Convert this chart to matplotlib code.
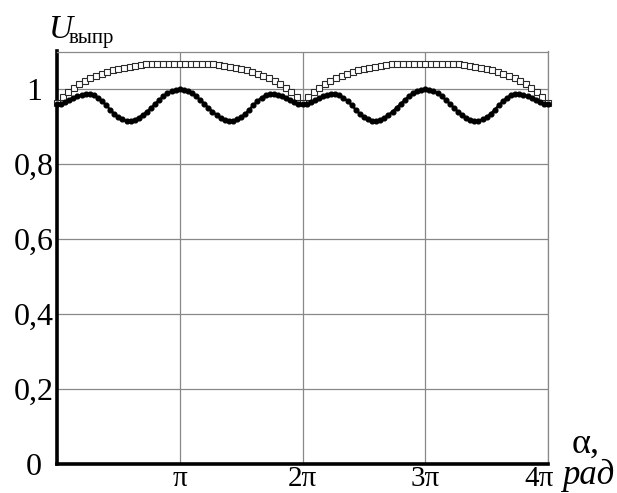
import numpy as np
import matplotlib.pyplot as plt
import matplotlib.transforms as mtransforms

plt.rcParams['font.family'] = ['Liberation Serif', 'DejaVu Serif']

# filled dots, step pi/30 over 0..4pi
u_dots = [0.960, 0.961, 0.965, 0.970, 0.975, 0.981, 0.985, 0.988, 0.988, 0.984,
          0.977, 0.968, 0.957, 0.945, 0.934, 0.925, 0.919, 0.915, 0.916, 0.918,
          0.924, 0.931, 0.940, 0.950, 0.961, 0.971, 0.981, 0.989, 0.995, 0.998,
          1.000, 0.998, 0.995, 0.989, 0.981, 0.971, 0.961, 0.950, 0.940, 0.931,
          0.924, 0.918, 0.916, 0.915, 0.919, 0.925, 0.934, 0.945, 0.957, 0.968,
          0.977, 0.984, 0.988, 0.988, 0.985, 0.981, 0.975, 0.970, 0.965, 0.961,
          0.960, 0.961, 0.965, 0.970, 0.975, 0.981, 0.985, 0.988, 0.988, 0.984,
          0.977, 0.968, 0.957, 0.945, 0.934, 0.925, 0.919, 0.915, 0.916, 0.918,
          0.924, 0.931, 0.940, 0.950, 0.961, 0.971, 0.981, 0.989, 0.995, 0.998,
          1.000, 0.998, 0.995, 0.989, 0.981, 0.971, 0.961, 0.950, 0.940, 0.931,
          0.924, 0.918, 0.916, 0.915, 0.919, 0.925, 0.934, 0.945, 0.957, 0.968,
          0.977, 0.984, 0.988, 0.988, 0.985, 0.981, 0.975, 0.970, 0.965, 0.961,
          0.960]

# open squares, step pi/22 over 0..4pi
u_squares = [0.964, 0.979, 0.993, 1.004, 1.014, 1.022, 1.029, 1.035, 1.040, 1.045,
             1.050, 1.054, 1.057, 1.060, 1.062, 1.064, 1.066, 1.067, 1.068, 1.068,
             1.068, 1.068, 1.068, 1.068, 1.068, 1.068, 1.068, 1.067, 1.066, 1.064,
             1.062, 1.060, 1.057, 1.054, 1.050, 1.045, 1.040, 1.035, 1.029, 1.022,
             1.014, 1.004, 0.993, 0.979, 0.964, 0.979, 0.993, 1.004, 1.014, 1.022,
             1.029, 1.035, 1.040, 1.045, 1.050, 1.054, 1.057, 1.060, 1.062, 1.064,
             1.066, 1.067, 1.068, 1.068, 1.068, 1.068, 1.068, 1.068, 1.068, 1.068,
             1.068, 1.067, 1.066, 1.064, 1.062, 1.060, 1.057, 1.054, 1.050, 1.045,
             1.040, 1.035, 1.029, 1.022, 1.014, 1.004, 0.993, 0.979, 0.964]

x_ticks = [np.pi, 2 * np.pi, 3 * np.pi, 4 * np.pi]
x_labels = ['π', '2π', '3π', '4π']
y_ticks = [0, 0.2, 0.4, 0.6, 0.8, 1.0]
y_labels = ['0', '0,2', '0,4', '0,6', '0,8', '1']

a_dots = np.linspace(0, 4 * np.pi, len(u_dots))
a_squares = np.linspace(0, 4 * np.pi, len(u_squares))

fig = plt.figure(figsize=(6.17, 4.93), dpi=100)
ax = fig.add_axes([57 / 617, 1 - 464 / 493, (548 - 57) / 617, (464 - 51.5) / 493])

ax.plot(a_squares, u_squares, ls='none', marker='s', ms=4.6, mfc='white',
        mec='#2a2a2a', mew=0.8, zorder=3, clip_on=False)
ax.plot(a_dots, u_dots, color='black', lw=1.6, marker='o', ms=3.4,
        zorder=4, clip_on=False)

ax.set_xlim(0, 4 * np.pi)
ax.set_ylim(0, 1.1)
ax.set_xticks(x_ticks)
ax.set_xticklabels(x_labels)
ax.set_yticks(y_ticks)
ax.set_yticklabels(y_labels)
ax.tick_params(length=0)
ax.tick_params(axis='x', labelsize=21, pad=15.8)
ax.tick_params(axis='y', labelsize=23, pad=16.5)
for lab in ax.get_yticklabels():
    lab.set_horizontalalignment('center')
for lab in ax.get_xticklabels():
    lab.set_verticalalignment('baseline')
# the 4pi label sits a little left of its line in the original
last = ax.get_xticklabels()[-1]
last.set_transform(last.get_transform() +
                   mtransforms.ScaledTranslation(-9 / 100, 0, fig.dpi_scale_trans))

ax.grid(True, color='#888888', lw=0.9)
ax.set_axisbelow(True)
for side in ['left', 'bottom']:
    ax.spines[side].set_linewidth(2.6)
    ax.spines[side].set_color('black')
for side in ['top', 'right']:
    ax.spines[side].set_linewidth(0.9)
    ax.spines[side].set_color('#888888')

fig.text(49 / 617, 1 - 38 / 493, 'U', style='italic', size=24, va='baseline')
fig.text(69 / 617, 1 - 43 / 493, 'выпр', size=15, va='baseline')
fig.text(572 / 617, 1 - 453 / 493, 'α,', size=26, va='baseline')
fig.text(562 / 617, 1 - 484 / 493, 'рад', style='italic', size=25, va='baseline')

fig.savefig('out.png', dpi=100, facecolor='white')
